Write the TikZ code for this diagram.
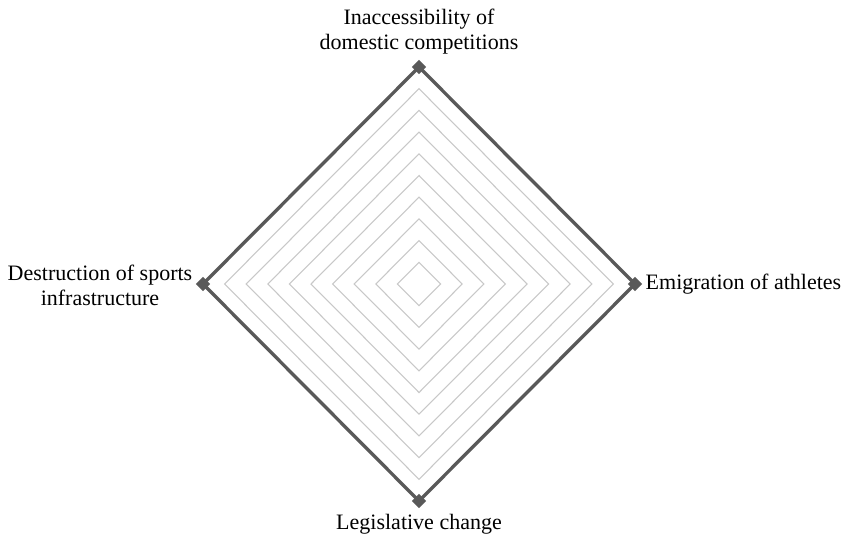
\documentclass[tikz,border=0pt]{standalone}
\usepackage{fontspec}
\setmainfont{Liberation Serif}
\usepackage{tikz}
\usetikzlibrary{shapes.geometric}
\usepackage{xcolor}
\definecolor{series}{HTML}{595959}
\definecolor{gridln}{HTML}{C8C8C8}

\begin{document}
\begin{tikzpicture}[x=0.75pt,y=-0.75pt,every node/.style={font=\fontsize{16.5}{18.75}\selectfont},
  pt/.style={diamond,fill=series,inner sep=0pt,minimum size=11pt}]
\useasboundingbox (0,0) rectangle (847,536);
% grid rings
\foreach \r in {1,...,10}
  \draw[gridln,line width=0.8pt] (419,284-21.7*\r) -- (419+21.6*\r,284) -- (419,284+21.7*\r) -- (419-21.6*\r,284) -- cycle;
% data points
\node[pt] (vi) at (419,67) {};
\node[pt] (ve) at (635,284) {};
\node[pt] (vl) at (419,501) {};
\node[pt] (vd) at (203,284) {};
\draw[series,line width=2.5pt,line join=miter] (vi.center) -- (ve.center) -- (vl.center) -- (vd.center) -- cycle;
% axis labels
\node[align=center] (li) at (419,32) {Inaccessibility of\\domestic competitions};
\node[anchor=west] (le) at (641,284) {Emigration of athletes};
\node (ll) at (419,524) {Legislative change};
\node[align=center] (ld) at (100,285) {Destruction of sports\\infrastructure};
\end{tikzpicture}
\end{document}
